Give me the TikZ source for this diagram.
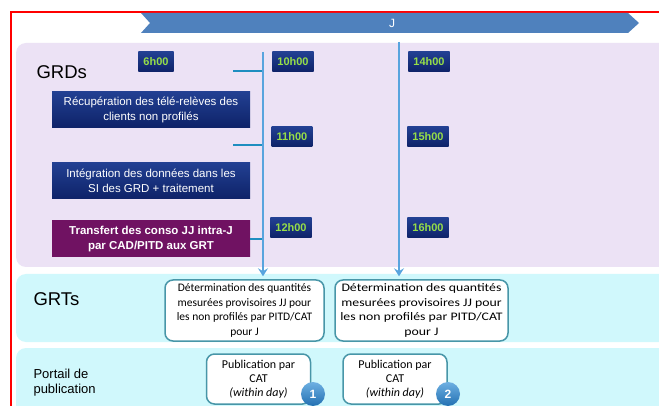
\documentclass[tikz,border=0pt]{standalone}
\usepackage{fontspec}
\setmainfont{Liberation Sans}
\newfontfamily\calibri{Carlito}
\newfontfamily\calibriwide[FakeStretch=1.2]{Carlito}
\usetikzlibrary{arrows.meta, positioning}

\definecolor{grdbg}{RGB}{236,226,245}
\definecolor{grtbg}{RGB}{208,248,252}
\definecolor{navy}{RGB}{14,34,104}
\definecolor{navytop}{RGB}{34,64,146}
\definecolor{timegreen}{RGB}{150,222,72}
\definecolor{plum}{RGB}{112,18,98}
\definecolor{bannerblue}{RGB}{79,129,189}
\definecolor{lineblue}{RGB}{88,164,222}
\definecolor{linkteal}{RGB}{30,142,192}
\definecolor{boxteal}{RGB}{72,150,168}
\definecolor{balltop}{RGB}{110,176,226}
\definecolor{ballbottom}{RGB}{34,112,178}

\tikzset{
	panel/.style={rounded corners=10pt},
	timebox/.style={top color=navytop, bottom color=navy, text=timegreen,
		font=\bfseries\fontsize{11}{12}\selectfont, minimum height=20pt,
		inner xsep=5pt, inner ysep=0pt},
	taskbox/.style={top color=navytop, bottom color=navy, text=white,
		minimum width=198pt, minimum height=36pt, align=center,
		font=\fontsize{11.5}{15}\selectfont},
	grtbox/.style={draw=boxteal, line width=1.5pt, rounded corners=8pt, fill=white,
		align=center, minimum height=61pt, inner sep=0pt},
	pubbox/.style={draw=boxteal, line width=1.5pt, rounded corners=8pt, fill=white,
		align=center, minimum width=104pt, minimum height=50pt, inner sep=0pt,
		font=\calibri\fontsize{12}{14}\selectfont},
	numball/.style={circle, top color=balltop, bottom color=ballbottom, text=white,
		minimum size=24pt, inner sep=0pt, font=\bfseries\fontsize{12}{12}\selectfont},
	vline/.style={lineblue, line width=2.5pt, -{Stealth[length=8pt,width=10pt,inset=3pt]}},
	hlink/.style={linkteal, line width=1.6pt}
}

\begin{document}
\begin{tikzpicture}[x=1pt, y=-1pt]
	\useasboundingbox (0,0) rectangle (659,406);
	\clip (0,0) rectangle (659,406);
	\fill[white] (0,0) rectangle (659,406);

	% lanes
	\fill[grdbg, panel] (16,43) rectangle (680,267);
	\fill[grtbg, panel] (16,274) rectangle (680,342);
	\fill[grtbg, panel] (16,348) rectangle (680,430);
	\draw[red, line width=1.5pt] (11,406) -- (11,12) -- (659,12);

	% day banner
	\fill[bannerblue] (141,13) -- (628,13) -- (639,23) -- (628,33) -- (141,33) -- (150,23) -- cycle;
	\node[text=white, font=\fontsize{12}{12}\selectfont] (jday) at (392,23) {J};

	\node[anchor=west, font=\fontsize{18.5}{20}\selectfont] (grds) at (33,72) {GRDs};
	\node[anchor=west, font=\fontsize{18.5}{20}\selectfont] (grts) at (30,299) {GRTs};
	\node[anchor=west, align=left, font=\fontsize{13}{15}\selectfont] (portail) at (30,383)
		{Portail de\\publication};

	% GRD tasks
	\node[taskbox] (recup) at (151,110) {R\'ecup\'eration des t\'el\'e-rel\`eves des\\clients non profil\'es};
	\node[taskbox] (integ) at (151,181) {Int\'egration des donn\'ees dans les\\SI des GRD + traitement};
	\node[taskbox, top color=plum, bottom color=plum, font=\bfseries\fontsize{11.5}{15}\selectfont]
		(transf) at (151,239) {Transfert des conso JJ intra-J\\par CAD/PITD aux GRT};

	% time stamps
	\foreach \name/\x/\y in {6h00/156/62, 10h00/293/62, 14h00/429/62,
		11h00/292/137, 15h00/428/137, 12h00/291/228, 16h00/428/228}
		\node[timebox] (t\name) at (\x,\y) {\name};

	% GRT results
	\node[grtbox, minimum width=159pt, font=\calibri\fontsize{11.5}{14.5}\selectfont] (grtA) at (244.5,310.5)
		{D\'etermination des quantit\'es\\mesur\'ees provisoires JJ pour\\les non profil\'es par PITD/CAT\\pour J};
	\node[grtbox, minimum width=173pt, font=\calibriwide\fontsize{11.5}{14.5}\selectfont] (grtB) at (421.5,310.5)
		{D\'etermination des quantit\'es\\mesur\'ees provisoires JJ pour\\les non profil\'es par PITD/CAT\\pour J};

	% publication
	\node[pubbox] (pub1) at (258.5,379) {Publication par\\CAT\\\textit{(within day)}};
	\node[pubbox] (pub2) at (395,379) {Publication par\\CAT\\\textit{(within day)}};
	\node[numball] (n1) at (313,394) {1};
	\node[numball] (n2) at (448,394) {2};

	% links
	\coordinate (v1top) at (263,52);
	\coordinate (v2top) at (399,42);
	\coordinate (l10) at (233,71);
	\coordinate (l11) at (233,145);
	\draw[hlink] (l10) -- (l10 -| v1top);
	\draw[hlink] (l11) -- (l11 -| v1top);
	\draw[hlink] (transf.east) -- (transf.east -| v1top);
	\draw[vline, shorten >=3pt] (v1top) -- (v1top |- grtA.north);
	\draw[vline, shorten >=3pt] (v2top) -- (v2top |- grtB.north);
\end{tikzpicture}
\end{document}
